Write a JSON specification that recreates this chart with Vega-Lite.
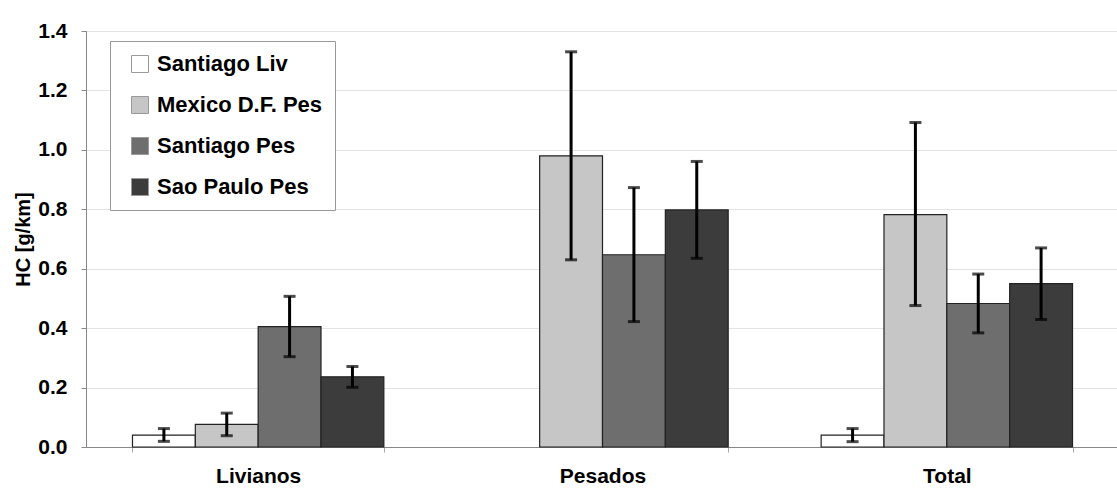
{
  "$schema": "https://vega.github.io/schema/vega-lite/v6.json",
  "autosize": {"type": "none"},
  "padding": {"left": 86, "top": 31, "right": 0, "bottom": 49},
  "width": 1033,
  "height": 416,
  "background": "white",
  "config": {
    "font": "Liberation Sans",
    "view": {"stroke": "#999", "strokeWidth": 1}
  },
  "data": {
    "values": [
      {"grupo": "Livianos", "serie": "Santiago Liv", "hc": 0.040, "lo": 0.019, "hi": 0.062},
      {"grupo": "Livianos", "serie": "Mexico D.F. Pes", "hc": 0.076, "lo": 0.038, "hi": 0.114},
      {"grupo": "Livianos", "serie": "Santiago Pes", "hc": 0.405, "lo": 0.304, "hi": 0.507},
      {"grupo": "Livianos", "serie": "Sao Paulo Pes", "hc": 0.236, "lo": 0.201, "hi": 0.271},
      {"grupo": "Pesados", "serie": "Mexico D.F. Pes", "hc": 0.980, "lo": 0.630, "hi": 1.330},
      {"grupo": "Pesados", "serie": "Santiago Pes", "hc": 0.647, "lo": 0.422, "hi": 0.873},
      {"grupo": "Pesados", "serie": "Sao Paulo Pes", "hc": 0.798, "lo": 0.635, "hi": 0.961},
      {"grupo": "Total", "serie": "Santiago Liv", "hc": 0.040, "lo": 0.018, "hi": 0.062},
      {"grupo": "Total", "serie": "Mexico D.F. Pes", "hc": 0.782, "lo": 0.476, "hi": 1.092},
      {"grupo": "Total", "serie": "Santiago Pes", "hc": 0.483, "lo": 0.384, "hi": 0.582},
      {"grupo": "Total", "serie": "Sao Paulo Pes", "hc": 0.550, "lo": 0.429, "hi": 0.670}
    ]
  },
  "encoding": {
    "x": {
      "field": "grupo",
      "type": "nominal",
      "sort": ["Livianos", "Pesados", "Total"],
      "scale": {"paddingInner": 0.27, "paddingOuter": 0.135},
      "axis": {
        "title": null,
        "labelAngle": 0,
        "labelFont": "Liberation Sans",
        "labelFontWeight": "bold",
        "labelFontSize": 21,
        "labelColor": "#000",
        "labelPadding": 13,
        "tickBand": "extent",
        "tickColor": "#aaa",
        "tickSize": 5,
        "domainColor": "#888",
        "grid": false
      }
    },
    "xOffset": {
      "field": "serie",
      "type": "nominal",
      "scale": {
        "domain": ["Santiago Liv", "Mexico D.F. Pes", "Santiago Pes", "Sao Paulo Pes"],
        "paddingInner": 0,
        "paddingOuter": 0
      }
    }
  },
  "layer": [
    {
      "mark": {"type": "bar", "stroke": "#222", "strokeWidth": 1.2},
      "encoding": {
        "y": {
          "field": "hc",
          "type": "quantitative",
          "scale": {"domain": [0, 1.4], "nice": false},
          "axis": {
            "title": "HC [g/km]",
            "titleFont": "Liberation Sans",
            "titleFontWeight": "bold",
            "titleFontSize": 20,
            "titleColor": "#000",
            "titlePadding": 4,
            "values": [0, 0.2, 0.4, 0.6, 0.8, 1.0, 1.2, 1.4],
            "format": ".1f",
            "labelFont": "Liberation Sans",
            "labelFontWeight": "bold",
            "labelFontSize": 21,
            "labelColor": "#000",
            "labelPadding": 14,
            "tickColor": "#888",
            "tickSize": 5,
            "domainColor": "#888",
            "gridColor": "#e3e3e3"
          }
        },
        "color": {
          "field": "serie",
          "type": "nominal",
          "scale": {
            "domain": ["Santiago Liv", "Mexico D.F. Pes", "Santiago Pes", "Sao Paulo Pes"],
            "range": ["#ffffff", "#c6c6c6", "#6e6e6e", "#3c3c3c"]
          },
          "legend": {
            "title": null,
            "orient": "none",
            "legendX": 24,
            "legendY": 10,
            "fillColor": "#ffffff",
            "strokeColor": "#999",
            "padding": 12,
            "symbolType": "square",
            "symbolSize": 289,
            "symbolOffset": 7,
            "symbolStrokeColor": "#999",
            "symbolStrokeWidth": 1,
            "labelFont": "Liberation Sans",
            "labelFontWeight": "bold",
            "labelFontSize": 22,
            "labelColor": "#000",
            "labelOffset": 6,
            "labelLimit": 400,
            "rowPadding": 19
          }
        }
      }
    },
    {
      "mark": {"type": "rule", "color": "#000", "strokeWidth": 3},
      "encoding": {
        "y": {"field": "lo", "type": "quantitative"},
        "y2": {"field": "hi"}
      }
    },
    {
      "mark": {"type": "tick", "color": "#000", "thickness": 3, "size": 12},
      "encoding": {"y": {"field": "lo", "type": "quantitative"}}
    },
    {
      "mark": {"type": "tick", "color": "#000", "thickness": 3, "size": 12},
      "encoding": {"y": {"field": "hi", "type": "quantitative"}}
    }
  ]
}
